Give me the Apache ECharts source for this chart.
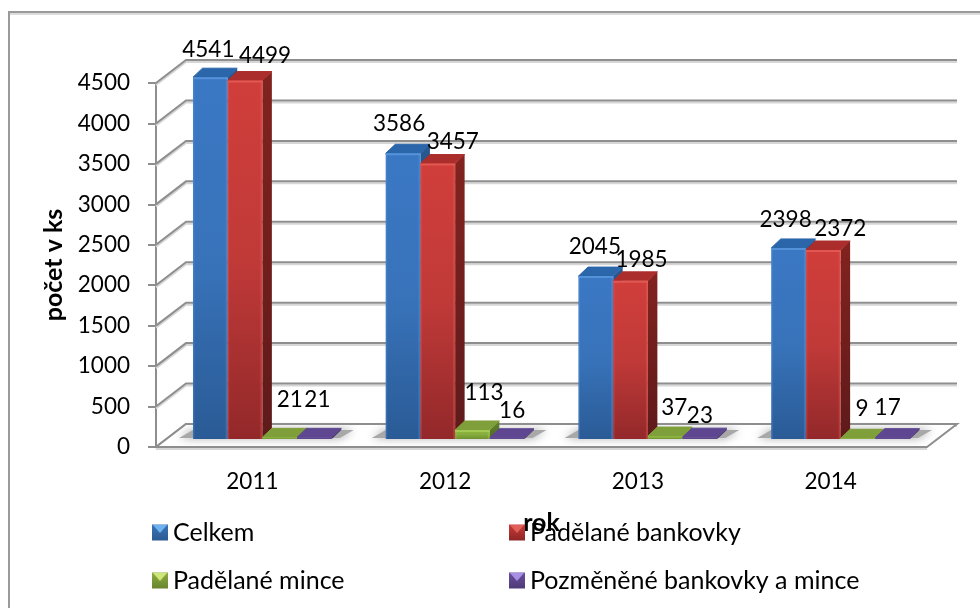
<!DOCTYPE html>
<html>
<head>
<meta charset="utf-8">
<style>html,body{margin:0;padding:0;background:#fff}#c{width:980px;height:608px}</style>
<script src="https://cdn.jsdelivr.net/npm/echarts@6/dist/echarts.min.js"></script>
</head>
<body>
<div id="c"></div>
<script>
const categories = ['2011', '2012', '2013', '2014'];
const seriesNames = ['Celkem', 'Padělané bankovky', 'Padělané mince', 'Pozměněné bankovky a mince'];
const celkem = [4541, 3586, 2045, 2398];
const padelaneBankovky = [4499, 3457, 1985, 2372];
const padelaneMince = [21, 113, 37, 9];
const pozmeneneBankovkyAMince = [21, 16, 23, 17];
const yTicks = [0, 500, 1000, 1500, 2000, 2500, 3000, 3500, 4000, 4500];
const allValues = [celkem, padelaneBankovky, padelaneMince, pozmeneneBankovkyAMince];

// layout of the hand-placed data labels, relative to their bar's front top centre
const labelShiftX = [[-2, -4, -1, -3], [20, 15, 11, 17], [10, 11.5, 9, 4], [3, 5, 0, -5]];
const labelShiftY = [[-27, -30, -29, -28], [-25, -22, -21, -21], [-38, -37, -28, -30], [-38, -27, -21, -30]];

const FONT = 'Lato, Carlito, sans-serif';
const FS = 22.5, FS_TEXT = 25;
const WALL_DX = 30, WALL_DY = 23;
const PLANE_DX = 10, PLANE_DY = 8;
const BAR_DX = 9.5, BAR_DY = 9;
const BAR_BAND = 0.18, BAR_SCALE = 0.985;
const GRID_C = '#8e8e8e', GRID_S = '#d6d6d6';

const skins = [
  {front: ['#3b78c4', '#3873ba', '#2a5b96'], hi: '#5c99e0', top: '#2b66aa', side: ['#27588f', '#1f4675'], legend: ['#3b74b8', '#2a5a92'], tri: '#6fb2f2'},
  {front: ['#d03e3b', '#c03a38', '#93282a'], hi: '#e8605a', top: '#ab2d2c', side: ['#82231f', '#5e1a1a'], legend: ['#c83a38', '#8f2626'], tri: '#e2605a'},
  {front: ['#8fb840', '#86ad3c', '#6f9030'], hi: '#a8cf58', top: '#7f9f3a', side: ['#62802c', '#516a24'], legend: ['#8dad42', '#68852f'], tri: '#cfe678'},
  {front: ['#6a4f9e', '#634a94', '#543e7e'], hi: '#8469b8', top: '#5e4690', side: ['#49366f', '#3c2d5c'], legend: ['#6a4f9e', '#4e3a78'], tri: '#a890e4'}
];
const vgrad = (stops) => ({
  type: 'linear', x: 0, y: 0, x2: 0, y2: 1,
  colorStops: stops.map((c, i) => ({offset: i / (stops.length - 1), color: c}))
});

function renderGridline(params, api) {
  const cs = params.coordSys;
  const yF = api.coord([0, api.value(1)])[1];
  const pts = (off) => [[cs.x, yF + off], [cs.x + WALL_DX, yF - WALL_DY + off], [cs.x + cs.width + WALL_DX, yF - WALL_DY + off]];
  return {
    type: 'group',
    children: [
      {type: 'polyline', shape: {points: pts(2)}, style: {stroke: GRID_S, lineWidth: 2, fill: null}},
      {type: 'polyline', shape: {points: pts(0)}, style: {stroke: GRID_C, lineWidth: 2, fill: null}}
    ]
  };
}

function renderFloor(params, api) {
  const cs = params.coordSys;
  const y0 = api.coord([0, 0])[1];
  const xL = cs.x, xR = cs.x + cs.width;
  return {
    type: 'group',
    children: [
      {type: 'line', shape: {x1: xL, y1: y0 + 2, x2: xR, y2: y0 + 2}, style: {stroke: GRID_S, lineWidth: 2}},
      {type: 'polygon', shape: {points: [[xL, y0], [xR, y0], [xR + WALL_DX, y0 - WALL_DY], [xL + WALL_DX, y0 - WALL_DY]]},
        style: {fill: '#fff', stroke: GRID_C, lineWidth: 2}}
    ]
  };
}

function renderShadow(params, api) {
  const p = api.coord([api.value(0), 0]);
  const band = api.size([1, 0])[0];
  const w = band * BAR_BAND;
  const cx = p[0] + PLANE_DX;
  const yB = p[1] - PLANE_DY;
  const l = cx - 2 * w, r = cx + 2 * w;
  return {
    type: 'polygon',
    shape: {points: [[l - 14, yB - 1], [r + 8, yB - 1], [r + 22, yB - 9], [l, yB - 9]]},
    style: {fill: '#a8a8a8', shadowBlur: 10, shadowColor: '#a0a0a0'}
  };
}

function makeBarRenderer(s) {
  return function (params, api) {
    const cat = api.value(0), v = api.value(1);
    const p0 = api.coord([cat, 0]);
    const pV = api.coord([cat, v]);
    const band = api.size([1, 0])[0];
    const w = band * BAR_BAND;
    const x0 = p0[0] + PLANE_DX + (s - 2) * w;
    const x1 = x0 + w;
    const yB = p0[1] - PLANE_DY;
    const yT = yB - (p0[1] - pV[1]) * BAR_SCALE;
    const skin = skins[s];
    const h = yB - yT;
    const children = [
      {type: 'polygon', shape: {points: [[x1, yT], [x1 + BAR_DX, yT - BAR_DY], [x1 + BAR_DX, yB - BAR_DY], [x1, yB]]},
        style: {fill: vgrad(skin.side)}},
      {type: 'polygon', shape: {points: [[x0, yT], [x1, yT], [x1 + BAR_DX, yT - BAR_DY], [x0 + BAR_DX, yT - BAR_DY]]},
        style: {fill: skin.top, stroke: skin.top, lineWidth: 1, lineJoin: 'round'}},
      {type: 'rect', shape: {x: x0, y: yT, width: w, height: h}, style: {fill: vgrad(skin.front)}}
    ];
    if (h > 5) {
      children.push(
        {type: 'rect', shape: {x: x0, y: yT, width: w, height: 2}, style: {fill: skin.hi, opacity: 0.75}},
        {type: 'rect', shape: {x: x1 - 2, y: yT, width: 2, height: h}, style: {fill: skin.hi, opacity: 0.35}},
        {type: 'rect', shape: {x: x0, y: yT, width: 1.5, height: h}, style: {fill: skin.hi, opacity: 0.3}}
      );
    }
    children.push({
      type: 'text', z2: 100,
      style: {
        text: String(v), x: (x0 + x1) / 2 + labelShiftX[s][cat], y: yT + labelShiftY[s][cat],
        align: 'center', verticalAlign: 'middle', fill: '#000', font: FS + 'px ' + FONT
      }
    });
    return {type: 'group', children};
  };
}

const swatchPos = [[152, 524], [509, 524], [152, 572], [509, 572]];
const LEGEND_RISE = 4;
const legends = seriesNames.map((n, i) => ({
  data: [n], left: swatchPos[i][0], top: swatchPos[i][1] - LEGEND_RISE, padding: 0,
  icon: 'rect', itemWidth: 16, itemHeight: 16, itemGap: 0, selectedMode: false,
  textStyle: {fontFamily: FONT, fontSize: FS_TEXT, color: '#000', padding: [0, 0, 0, 0]}
}));
const swatchTriangles = swatchPos.map((p, i) => ({
  type: 'polygon', z: 20,
  shape: {points: [[p[0] + 1, p[1] + 1], [p[0] + 15, p[1] + 1], [p[0] + 8, p[1] + 9]]},
  style: {fill: skins[i].tri}
}));

const chart = echarts.init(document.getElementById('c'), null, {renderer: 'canvas'});
chart.setOption({
  animation: false,
  backgroundColor: '#fff',
  grid: {left: 156, right: 53, top: 83, bottom: 161, containLabel: false},
  legend: legends,
  graphic: [
    {type: 'line', z: 0, shape: {x1: 9, y1: 14, x2: 980, y2: 14}, style: {stroke: '#dcdcdc', lineWidth: 2}},
    {type: 'line', z: 0, shape: {x1: 9, y1: 12, x2: 980, y2: 12}, style: {stroke: '#9a9a9a', lineWidth: 2}},
    {type: 'line', z: 0, shape: {x1: 9, y1: 11, x2: 9, y2: 608}, style: {stroke: '#9a9a9a', lineWidth: 2}}
  ].concat(swatchTriangles),
  xAxis: {
    type: 'category', data: categories, boundaryGap: true,
    name: 'rok', nameLocation: 'middle', nameGap: 63,
    nameTextStyle: {fontFamily: FONT, fontSize: FS_TEXT, fontWeight: 'bold', color: '#000'},
    axisLine: {show: false}, axisTick: {show: false},
    axisLabel: {margin: 23, fontFamily: FONT, fontSize: FS, color: '#000'}
  },
  yAxis: {
    type: 'value', min: 0, max: 4500, interval: 500,
    name: 'počet v ks', nameLocation: 'middle', nameGap: 89,
    nameTextStyle: {fontFamily: FONT, fontSize: FS_TEXT, fontWeight: 'bold', color: '#000'},
    axisLine: {show: true, lineStyle: {color: GRID_C, width: 2}},
    axisTick: {show: true, length: 8, lineStyle: {color: GRID_C, width: 2}},
    splitLine: {show: false},
    axisLabel: {margin: 26, fontFamily: FONT, fontSize: FS, color: '#000', formatter: (v) => String(v)}
  },
  series: [
    {type: 'custom', silent: true, renderItem: renderGridline, encode: {x: 0, y: 1},
      data: yTicks.map(t => [0, t])},
    {type: 'custom', silent: true, renderItem: renderFloor, encode: {x: 0, y: 1}, data: [[0, 0]]},
    {type: 'custom', silent: true, renderItem: renderShadow, encode: {x: 0, y: 1},
      data: categories.map((c, i) => [i, 0])}
  ].concat(seriesNames.map((n, s) => ({
    type: 'custom', name: n, silent: true, renderItem: makeBarRenderer(s), encode: {x: 0, y: 1},
    itemStyle: {color: vgrad(skins[s].legend)},
    data: allValues[s].map((v, i) => [i, v])
  })))
});
</script>
</body>
</html>
